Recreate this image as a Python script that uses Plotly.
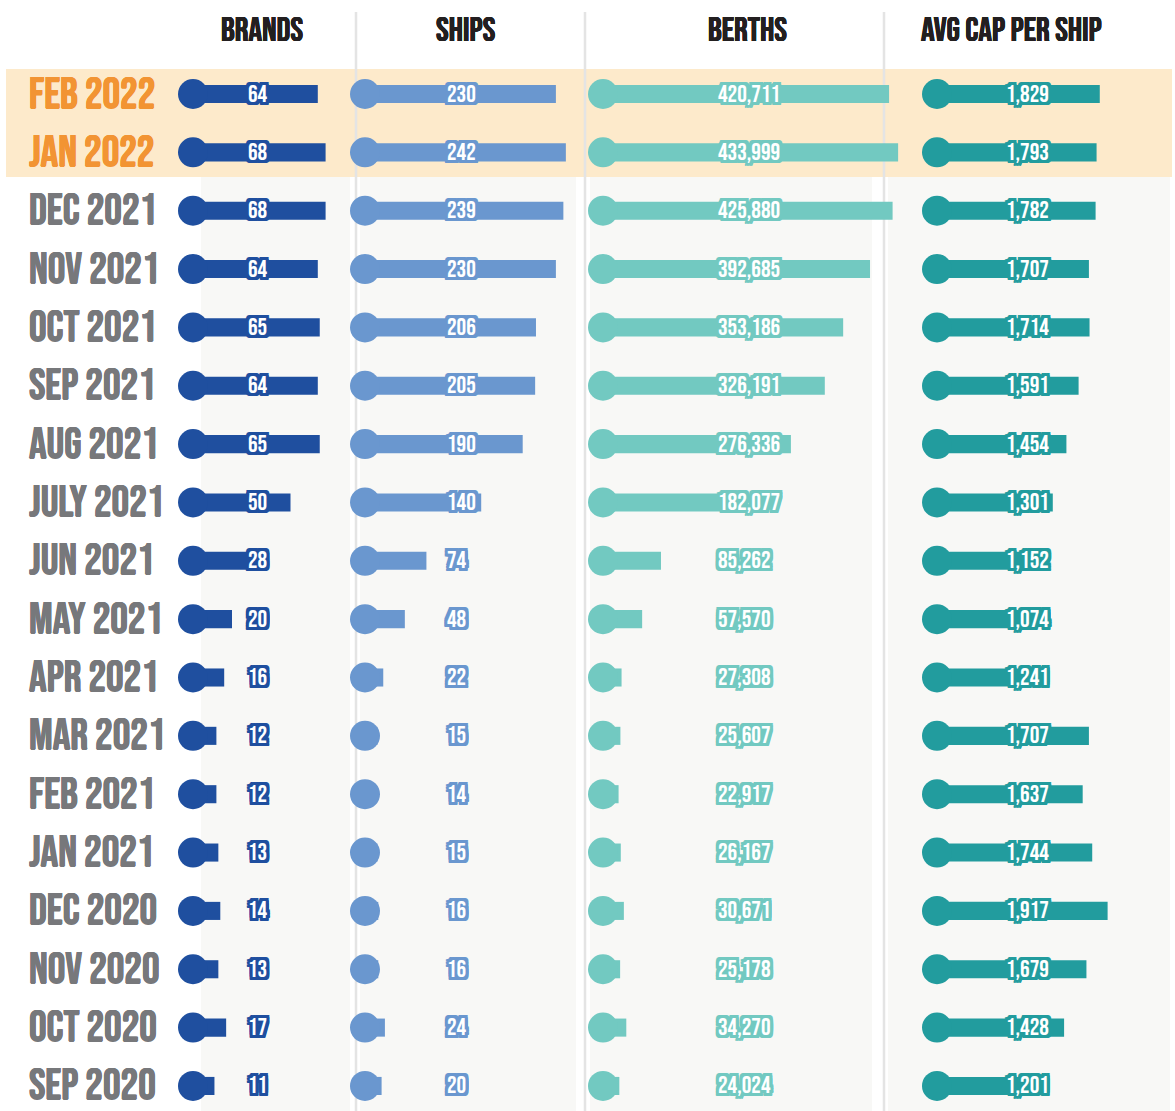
import plotly.graph_objects as go

months = ["FEB 2022", "JAN 2022", "DEC 2021", "NOV 2021", "OCT 2021", "SEP 2021",
          "AUG 2021", "JULY 2021", "JUN 2021", "MAY 2021", "APR 2021", "MAR 2021",
          "FEB 2021", "JAN 2021", "DEC 2020", "NOV 2020", "OCT 2020", "SEP 2020"]
brands = [64, 68, 68, 64, 65, 64, 65, 50, 28, 20, 16, 12, 12, 13, 14, 13, 17, 11]
ships = [230, 242, 239, 230, 206, 205, 190, 140, 74, 48, 22, 15, 14, 15, 16, 16, 24, 20]
berths = [420711, 433999, 425880, 392685, 353186, 326191, 276336, 182077, 85262, 57570,
          27308, 25607, 22917, 26167, 30671, 25178, 34270, 24024]
avg_cap = [1829, 1793, 1782, 1707, 1714, 1591, 1454, 1301, 1152, 1074, 1241, 1707,
           1637, 1744, 1917, 1679, 1428, 1201]
highlight = ["FEB 2022", "JAN 2022"]
headers = ["BRANDS", "SHIPS", "BERTHS", "AVG CAP PER SHIP"]

W, H = 1175, 1111
FONT = "Bebas Neue, Oswald, Roboto Condensed, PT Sans Narrow, sans-serif"

cols = [
    dict(values=brands, color="#1f4f9f", zero=193, scale=1.95, left=166, right=352, label_x=246, head_x=262),
    dict(values=ships, color="#6a97cf", zero=365, scale=0.83, left=338, right=578, label_x=445, head_x=465),
    dict(values=berths, color="#72c9c1", zero=603, scale=0.00068, left=576, right=908, label_x=716, head_x=747),
    dict(values=avg_cap, color="#229c9e", zero=937, scale=0.089, left=910, right=1175, label_x=1004, head_x=1011),
]

ROW0, ROWSTEP = 94.0, 58.35


def stroke(c, w=3):
    offs = []
    steps = [-w, -w / 2, 0, w / 2, w]
    for dx in steps:
        for dy in steps:
            if dx == 0 and dy == 0:
                continue
            offs.append(f"{dx}px {dy}px 0 {c}")
    return ", ".join(offs)


def thicken(c, w=0.6):
    return f"{w}px 0 0 {c}, -{w}px 0 0 {c}, 0 {w}px 0 {c}, 0 -{w}px 0 {c}"


fig = go.Figure()
layout_axes = {}
annotations = []
shapes = []

# background panels
panel_x = [(201, 350), (360, 576), (590, 872), (888, 1170)]
for x0, x1 in panel_x:
    shapes.append(dict(type="rect", xref="paper", yref="paper", x0=x0 / W, x1=x1 / W,
                       y0=0, y1=1 - 177 / H, fillcolor="#f8f8f6", line_width=0, layer="below"))
# highlight band
shapes.append(dict(type="rect", xref="paper", yref="paper", x0=6 / W, x1=1172 / W,
                   y0=1 - 177 / H, y1=1 - 69 / H, fillcolor="#fdeacb", line_width=0, layer="below"))
# separators
for xs in (356, 585, 884):
    shapes.append(dict(type="line", xref="paper", yref="paper", x0=xs / W, x1=xs / W,
                       y0=0, y1=1 - 12 / H, line=dict(color="#e4e4e4", width=2.5), layer="below"))

for i, c in enumerate(cols):
    ax = "x" if i == 0 else f"x{i + 1}"
    key = "xaxis" if i == 0 else f"xaxis{i + 1}"
    rng = [(c["left"] - c["zero"]) / c["scale"], (c["right"] - c["zero"]) / c["scale"]]
    layout_axes[key] = dict(domain=[c["left"] / W, c["right"] / W], range=rng, anchor="y",
                            visible=False, showgrid=False, zeroline=False, fixedrange=True)
    fig.add_trace(go.Bar(x=c["values"], y=months, orientation="h", xaxis=ax, yaxis="y",
                         marker=dict(color=c["color"], line_width=0), width=0.31,
                         hoverinfo="skip", cliponaxis=False))
    fig.add_trace(go.Scatter(x=[0] * len(months), y=months, mode="markers", xaxis=ax, yaxis="y",
                             marker=dict(color=c["color"], size=30, line_width=0),
                             hoverinfo="skip", cliponaxis=False))
    for m, v in zip(months, c["values"]):
        annotations.append(dict(x=c["label_x"] / W, xref="paper", y=m, yref="y",
                                xanchor="left", yanchor="middle", text=f"{v:,}", showarrow=False,
                                font=dict(family=FONT, size=24, color="white",
                                          shadow=stroke(c["color"]))))
    annotations.append(dict(x=c["head_x"] / W, xref="paper", y=1 - 30 / H, yref="paper",
                            xanchor="center", yanchor="middle", text=headers[i], showarrow=False,
                            font=dict(family=FONT, size=34, color="#231f20",
                                      shadow=thicken("#231f20", 0.4))))

for m in months:
    col = "#f29433" if m in highlight else "#77787b"
    annotations.append(dict(x=27 / W, xref="paper", y=m, yref="y", xanchor="left", yanchor="middle",
                            text=m, showarrow=False,
                            font=dict(family=FONT, size=44, color=col, shadow=thicken(col, 0.5))))

yr = [(H - ROW0) / ROWSTEP, -ROW0 / ROWSTEP]
fig.update_layout(
    width=W, height=H, margin=dict(l=0, r=0, t=0, b=0),
    paper_bgcolor="white", plot_bgcolor="rgba(0,0,0,0)",
    showlegend=False, barmode="overlay", hovermode=False,
    yaxis=dict(type="category", categoryorder="array", categoryarray=months, range=yr,
               domain=[0, 1], visible=False, showgrid=False, zeroline=False, fixedrange=True),
    shapes=shapes, annotations=annotations,
    **layout_axes,
)

fig.write_html("out.html", config={"displayModeBar": False},
               post_script="document.body.style.margin='0';")
